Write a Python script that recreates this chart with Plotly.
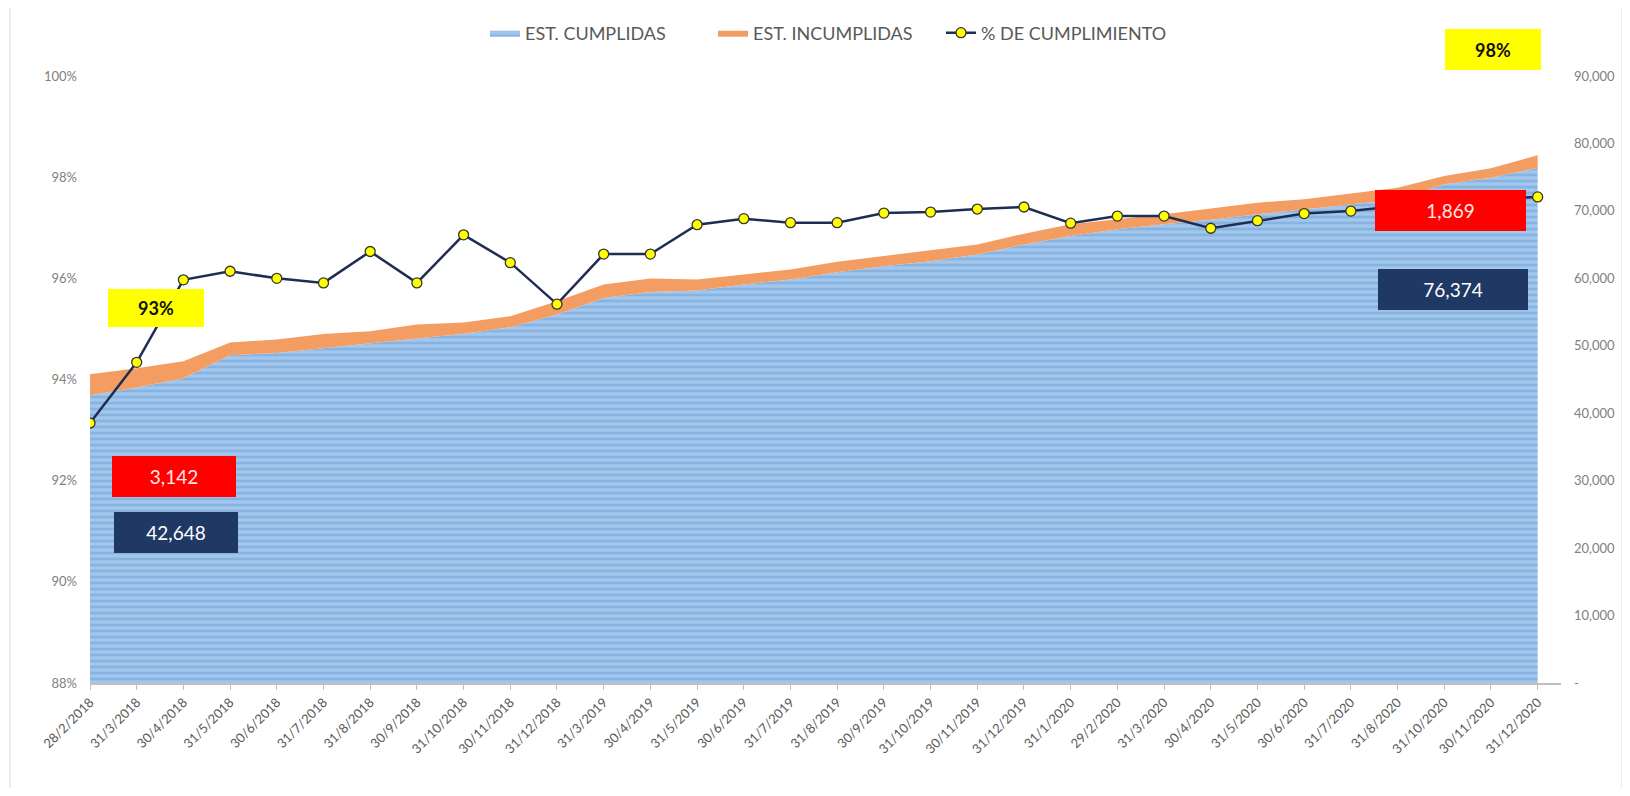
import plotly.graph_objects as go

fechas = ["28/2/2018", "31/3/2018", "30/4/2018", "31/5/2018", "30/6/2018", "31/7/2018",
          "31/8/2018", "30/9/2018", "31/10/2018", "30/11/2018", "31/12/2018", "31/3/2019",
          "30/4/2019", "31/5/2019", "30/6/2019", "31/7/2019", "31/8/2019", "30/9/2019",
          "31/10/2019", "30/11/2019", "31/12/2019", "31/1/2020", "29/2/2020", "31/3/2020",
          "30/4/2020", "31/5/2020", "30/6/2020", "31/7/2020", "31/8/2020", "31/10/2020",
          "30/11/2020", "31/12/2020"]

cumplidas = [42648, 43830, 45170, 48590, 48930, 49670, 50410, 51160, 51800, 52750, 54630,
             57100, 57990, 58200, 59090, 59830, 60900, 61810, 62550, 63550, 65030, 66270,
             67260, 68010, 68680, 69490, 70230, 70980, 71700, 73950, 74930, 76374]

incumplidas = [3142, 2820, 2530, 1910, 1990, 2080, 1740, 1990, 1650, 1630, 1980, 1990,
               1990, 1630, 1490, 1490, 1550, 1490, 1590, 1480, 1580, 1740, 1490, 1480,
               1670, 1730, 1490, 1570, 1740, 1230, 1400, 1869]

pct_cumplimiento = [93.14, 94.34, 95.97, 96.14, 96.00, 95.91, 96.53, 95.91, 96.86, 96.31,
                    95.49, 96.48, 96.48, 97.06, 97.18, 97.10, 97.10, 97.29, 97.31, 97.37,
                    97.41, 97.09, 97.23, 97.23, 96.99, 97.14, 97.28, 97.33, 97.43, 97.51,
                    97.57, 97.61]

right_ticks = [0, 10000, 20000, 30000, 40000, 50000, 60000, 70000, 80000, 90000]
right_ticktext = ["-"] + [f"{v:,}" for v in right_ticks[1:]]
left_ticks = [88, 90, 92, 94, 96, 98, 100]
left_ticktext = [f"{v}%" for v in left_ticks]

FONT = "Lato"
OFF = 8                      # default page margin of the html body
SW, SH = 1630, 796           # screen size
W, H = SW - 2 * OFF, SH - 2 * OFF
# plot area in screen pixels
PX0, PX1, PY0, PY1 = 90, 1561, 76, 683
L, R, T, B = PX0 - OFF, W - (PX1 - OFF), PY0 - OFF, H - (PY1 - OFF)
PW, PH = PX1 - PX0, PY1 - PY0

def px(x):
    return (x - PX0) / PW

def py(y):
    return (PY1 - y) / PH

fig = go.Figure()
fig.add_trace(go.Scatter(
    x=fechas, y=cumplidas, name="EST. CUMPLIDAS", mode="lines",
    stackgroup="est", line=dict(width=0, color="#86B4E2"),
    fillcolor="#9CC2EA",
    fillpattern=dict(shape="-", bgcolor="#A3C7EC", fgcolor="#6C9FD5", size=6, solidity=0.45),
    yaxis="y", hoverinfo="skip", legendrank=1))
fig.add_trace(go.Scatter(
    x=fechas, y=incumplidas, name="EST. INCUMPLIDAS", mode="lines",
    stackgroup="est", line=dict(width=0, color="#F08C4E"),
    fillcolor="#F39D63", yaxis="y", hoverinfo="skip", legendrank=2))
fig.add_trace(go.Scatter(
    x=fechas, y=pct_cumplimiento, name="% DE CUMPLIMIENTO", mode="lines+markers",
    line=dict(color="#1F2D52", width=2.5),
    marker=dict(size=10, color="#FFFF00", line=dict(color="#333333", width=1.3)),
    yaxis="y2", legendrank=3))

boxes = [
    # text, cx, cy, w, h, bg, fontcolor, bold
    ("93%", 156, 308, 96, 38, "#FFFF00", "#111111", True),
    ("3,142", 174, 476.5, 124, 41, "#FF0000", "#FFE8E8", False),
    ("42,648", 176, 532, 124, 41, "#1F3864", "#FFFFFF", False),
    ("98%", 1493, 49.5, 96, 41, "#FFFF00", "#111111", True),
    ("1,869", 1450.5, 210.5, 151, 41, "#FF0000", "#FFE8E8", False),
    ("76,374", 1453, 289.5, 150, 41, "#1F3864", "#FFFFFF", False),
]
annotations = []
for text, cx, cy, w, h, bg, fc, bold in boxes:
    annotations.append(dict(
        text=f"<b>{text}</b>" if bold else text,
        x=px(cx), y=py(cy), xref="paper", yref="paper",
        xanchor="center", yanchor="middle", showarrow=False,
        width=w, height=h, bgcolor=bg, borderpad=0, borderwidth=0,
        font=dict(family=FONT, size=18 if bold else 19, color=fc), align="center"))

shapes = [dict(type="rect", xref="paper", yref="paper",
               x0=px(10), x1=px(1622), y0=py(790), y1=py(5),
               line=dict(color="#D9D9D9", width=1), fillcolor="rgba(0,0,0,0)", layer="below")]

fig.update_layout(
    width=W, height=H, autosize=False,
    margin=dict(l=L, r=R, t=T, b=B, autoexpand=False),
    paper_bgcolor="white", plot_bgcolor="white",
    font=dict(family=FONT, color="#595959"),
    showlegend=True,
    legend=dict(orientation="h", x=px(485), xanchor="left", y=py(33), yanchor="middle",
                traceorder="normal",
                font=dict(family=FONT, size=18, color="#595959"),
                itemwidth=30, entrywidth=183, entrywidthmode="pixels",
                bgcolor="rgba(0,0,0,0)"),
    xaxis=dict(type="category", range=[0, 31.5], showgrid=False, zeroline=False,
               showline=True, linecolor="#BFBFBF", linewidth=1.5,
               ticks="outside", ticklen=5, tickcolor="#BFBFBF",
               tickangle=-45, tickfont=dict(family=FONT, size=13, color="#595959")),
    yaxis=dict(range=[0, 90000], side="right", showgrid=False, zeroline=False,
               showline=False, tickvals=right_ticks, ticktext=right_ticktext,
               ticklabelstandoff=12,
               tickfont=dict(family=FONT, size=13, color="#808080")),
    yaxis2=dict(range=[88, 100], overlaying="y", side="left", showgrid=False,
                zeroline=False, showline=False, tickvals=left_ticks, ticktext=left_ticktext,
                ticklabelstandoff=12,
                tickfont=dict(family=FONT, size=13, color="#808080")),
    annotations=annotations, shapes=shapes,
)

fig.write_html("out.html")
